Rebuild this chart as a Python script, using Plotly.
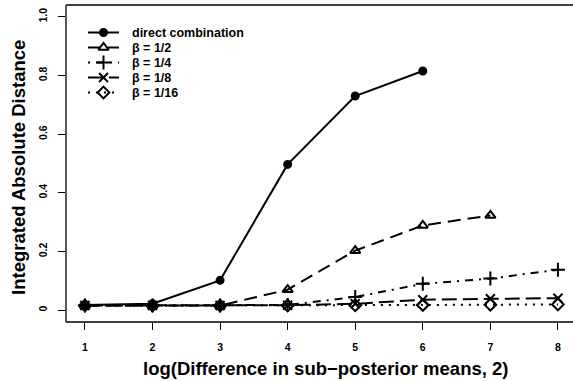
import plotly.graph_objects as go

# x positions: log2 of the difference in sub-posterior means
x_vals = [1, 2, 3, 4, 5, 6, 7, 8]

direct_combination = [0.018, 0.022, 0.102, 0.497, 0.730, 0.815]
beta_half = [0.016, 0.016, 0.016, 0.070, 0.203, 0.289, 0.323]
beta_quarter = [0.016, 0.016, 0.016, 0.018, 0.045, 0.090, 0.108, 0.138]
beta_eighth = [0.016, 0.016, 0.016, 0.017, 0.022, 0.036, 0.039, 0.041]
beta_sixteenth = [0.016, 0.016, 0.016, 0.016, 0.017, 0.018, 0.019, 0.020]

series_names = ["direct combination", "\u03b2 = 1/2", "\u03b2 = 1/4", "\u03b2 = 1/8", "\u03b2 = 1/16"]
y_ticks = [0, 0.2, 0.4, 0.6, 0.8, 1.0]
y_tick_text = ["0", "0.2", "0.4", "0.6", "0.8", "1.0"]
x_title = "log(Difference in sub\u2212posterior means, 2)"
y_title = "Integrated Absolute Distance"

FONT = "Liberation Sans"
BLACK = "#000000"

# figure geometry (pixels)
W, H = 573, 381
L, T, B = 66, 5, 59
PLOT_BOTTOM = H - B

styles = [
    dict(dash="solid", symbol="circle", size=7),
    dict(dash="13px,7px", symbol="triangle-up-open", size=9),
    dict(dash="2px,6px,8px,6px", symbol="cross-thin-open", size=10),
    dict(dash="15px,6px", symbol="x-thin-open", size=9),
    dict(dash="2px,6px", symbol="diamond-open", size=9),
]
data = [direct_combination, beta_half, beta_quarter, beta_eighth, beta_sixteenth]


def marker_of(st):
    return dict(symbol=st["symbol"], size=st["size"], color=BLACK,
                line=dict(color=BLACK, width=2))


fig = go.Figure()
for name, ys, st in zip(series_names, data, styles):
    fig.add_trace(go.Scatter(
        x=x_vals[:len(ys)], y=ys, name=name, mode="lines+markers",
        line=dict(color=BLACK, width=2, dash=st["dash"]),
        marker=marker_of(st), showlegend=False,
    ))

# compact R-style key, drawn on an overlay axis pair measured in pixels
key_x0, key_x1, key_text_x = 88, 119, 131
key_row0, key_row_step = 32.5, 15.0
for i, (name, st) in enumerate(zip(series_names, styles)):
    yy = key_row0 + i * key_row_step
    fig.add_trace(go.Scatter(
        x=[key_x0, key_x1], y=[yy, yy], mode="lines", xaxis="x2", yaxis="y2",
        line=dict(color=BLACK, width=2, dash=st["dash"]), showlegend=False,
        hoverinfo="skip"))
    fig.add_trace(go.Scatter(
        x=[(key_x0 + key_x1) / 2], y=[yy], mode="markers", xaxis="x2", yaxis="y2",
        marker=marker_of(st), showlegend=False, hoverinfo="skip"))
    fig.add_annotation(text=name, xref="x2", yref="y2", x=key_text_x, y=yy,
                       xanchor="left", yanchor="middle", showarrow=False,
                       borderpad=0,
                       font=dict(family=FONT, size=12.5, color=BLACK, weight="bold"))

tick_font = dict(family=FONT, size=10.5, color=BLACK, weight="bold")
fig.update_layout(
    width=W, height=H,
    margin=dict(l=L, r=0, t=T, b=B),
    paper_bgcolor="white", plot_bgcolor="white",
    font=dict(family=FONT, color=BLACK),
    showlegend=False,
    xaxis=dict(range=[0.72, 8.223], tickvals=x_vals, ticks="outside", ticklen=7,
               tickwidth=1, tickcolor=BLACK, showgrid=False, zeroline=False,
               showline=False, ticklabelstandoff=8, tickfont=tick_font),
    yaxis=dict(range=[-0.04, 1.04], tickvals=y_ticks, ticktext=y_tick_text,
               ticks="outside", ticklen=7, tickwidth=1, tickcolor=BLACK,
               tickangle=-90, showgrid=False, zeroline=False, showline=False,
               ticklabelstandoff=7, tickfont=tick_font),
    xaxis2=dict(range=[L, W], overlaying="x", anchor="y2", visible=False,
                fixedrange=True),
    yaxis2=dict(range=[PLOT_BOTTOM, T], overlaying="y", anchor="x2", visible=False,
                fixedrange=True),
)

# plot frame: left, top and bottom edges
for x0, y0, x1, y1 in [(0, 0, 0, 1), (0, 1, 1, 1), (0, 0, 1, 0)]:
    fig.add_shape(type="line", xref="paper", yref="paper", x0=x0, y0=y0, x1=x1, y1=y1,
                  line=dict(color=BLACK, width=1.3))

title_font = dict(family=FONT, size=18.5, color=BLACK, weight="bold")
fig.add_annotation(text=x_title, xref="paper", yref="paper", x=0.512, y=0,
                   yshift=-46, xanchor="center", yanchor="middle", showarrow=False,
                   font=title_font)
fig.add_annotation(text=y_title, xref="paper", yref="paper", x=0, y=0.486,
                   xshift=-47, xanchor="center", yanchor="middle", textangle=-90,
                   showarrow=False, font=title_font)

fig.write_html("out.html")
